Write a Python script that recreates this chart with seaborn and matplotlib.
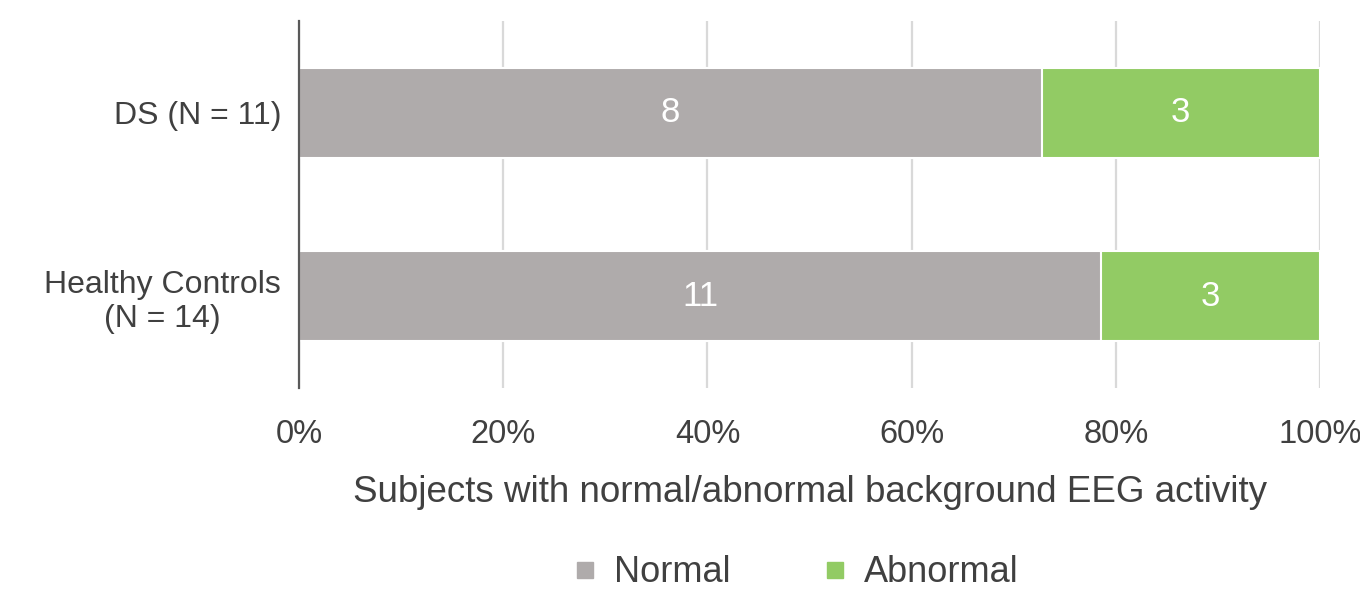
import matplotlib
matplotlib.use("Agg")
import matplotlib.pyplot as plt
import matplotlib.transforms as mtransforms
from matplotlib.lines import Line2D
from matplotlib.ticker import FuncFormatter
import seaborn as sns
import pandas as pd

# Counts of subjects per group
groups = ["DS (N = 11)", "Healthy Controls\n(N = 14)"]
normal_counts = [8, 11]
abnormal_counts = [3, 3]
series_names = ["Normal", "Abnormal"]
x_ticks = [0, 20, 40, 60, 80, 100]

gray = "#AFABAB"
green = "#92CB64"
text_color = "#404040"

totals = [n + a for n, a in zip(normal_counts, abnormal_counts)]
df = pd.DataFrame({
    "group": groups,
    "normal_pct": [100 * n / t for n, t in zip(normal_counts, totals)],
    "total_pct": [100.0 for _ in totals],
})

sns.set_theme(style="white")
plt.rcParams["font.family"] = ["Liberation Sans", "DejaVu Sans"]

fig = plt.figure(figsize=(13.6, 5.93), dpi=100)
ax = fig.add_axes([0.2199, 0.3457, 0.7507, 0.6189])

# Stacked horizontal bars: full-length abnormal bar underneath, normal share on top
sns.barplot(data=df, y="group", x="total_pct", color=green, orient="h",
            width=0.49, saturation=1, edgecolor="white", linewidth=1.5,
            ax=ax, zorder=2)
sns.barplot(data=df, y="group", x="normal_pct", color=gray, orient="h",
            width=0.49, saturation=1, edgecolor="white", linewidth=1.5,
            ax=ax, zorder=3)

# Segment value labels
for i, (n, a) in enumerate(zip(normal_counts, abnormal_counts)):
    p = 100 * n / (n + a)
    ax.text(p / 2, i, str(n), ha="center", va="center", color="white",
            fontsize=25, zorder=4)
    ax.text(p + (100 - p) / 2, i, str(a), ha="center", va="center",
            color="white", fontsize=25, zorder=4)

ax.set_xlim(0, 100)
ax.set_ylim(1.5, -0.5)
ax.set_xticks(x_ticks)
ax.xaxis.set_major_formatter(FuncFormatter(lambda v, _: f"{v:.0f}%"))
ax.grid(axis="x", color="#D9D9D9", linewidth=1.6, zorder=0)
ax.set_axisbelow(True)

for side in ["top", "right", "bottom"]:
    ax.spines[side].set_visible(False)
ax.spines["left"].set_color("#595959")
ax.spines["left"].set_linewidth(1.6)
ax.spines["left"].set_zorder(5)

ax.tick_params(axis="x", length=0, pad=22, labelsize=23.5, labelcolor=text_color)
ax.tick_params(axis="y", length=0, pad=13, labelsize=23, labelcolor=text_color)
for lbl in ax.get_yticklabels():
    lbl.set_horizontalalignment("center")
    lbl.set_multialignment("center")
ax.set_ylabel("")
ax.set_xlabel("Subjects with normal/abnormal background EEG activity",
              fontsize=26.5, color=text_color, labelpad=18)

# Shift centered y tick labels so their right edge sits near the axis
fig.canvas.draw()
renderer = fig.canvas.get_renderer()
for lbl in ax.get_yticklabels():
    bb = lbl.get_window_extent(renderer)
    off = bb.width / 2
    lbl.set_transform(lbl.get_transform() + mtransforms.ScaledTranslation(-off / 100, 0, fig.dpi_scale_trans))

handles = [Line2D([], [], marker="s", linestyle="none", markersize=12,
                  markerfacecolor=c, markeredgecolor=c) for c in (gray, green)]
fig.legend(handles, series_names, loc="center", bbox_to_anchor=(0.583, 0.034),
           ncol=2, frameon=False, fontsize=26, labelcolor=text_color,
           handletextpad=0.3, columnspacing=2.4, handlelength=1.0,
           borderpad=0.1)

fig.savefig("out.png", dpi=100)
